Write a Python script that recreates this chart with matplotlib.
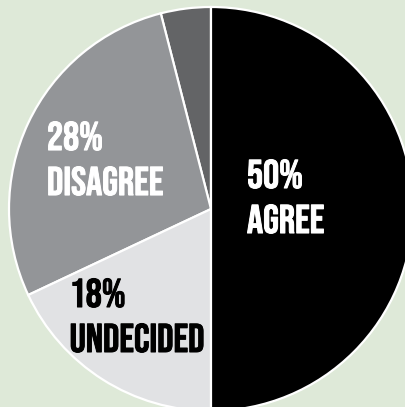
import matplotlib
matplotlib.use("Agg")
import matplotlib.pyplot as plt
from matplotlib import patheffects

# share of answers, drawn counter-clockwise from 12 o'clock
labels = ["", "DISAGREE", "UNDECIDED", "AGREE"]
shares = [4, 28, 18, 50]
colors = ["#636466", "#939598", "#e1e2e4", "#000000"]
text_colors = ["white", "white", "black", "white"]
# label anchor (left, baseline of the label line) in pie units
anchors = [None, (-0.812, 0.069), (-0.700, -0.708), (0.178, -0.119)]

background = "#dee9d8"
font = ["Bebas Neue", "Barlow Condensed", "DejaVu Sans"]

fig = plt.figure(figsize=(4.05, 4.07), dpi=100, facecolor=background)
ax = fig.add_axes([0, 0, 1, 1])
ax.set_facecolor(background)
ax.pie(
    shares,
    colors=colors,
    startangle=90,
    counterclock=True,
    radius=1.0,
    wedgeprops={"edgecolor": "white", "linewidth": 1.6},
)
ax.set_xlim(-211 / 202, (405 - 211) / 202)
ax.set_ylim(-(407 - 209) / 202, 209 / 202)
ax.set_aspect("equal")
ax.axis("off")

line_step = 45 / 202
for label, share, anchor, color in zip(labels, shares, anchors, text_colors):
    if anchor is None:
        continue
    x, y = anchor
    bold = [patheffects.withStroke(linewidth=0.7, foreground=color)]
    ax.text(x, y + line_step, f"{share}%", ha="left", va="baseline", color=color,
            fontsize=29, family=font, path_effects=bold)
    ax.text(x, y, label, ha="left", va="baseline", color=color,
            fontsize=29, family=font, path_effects=bold)

fig.savefig("out.png", dpi=100, facecolor=background)
